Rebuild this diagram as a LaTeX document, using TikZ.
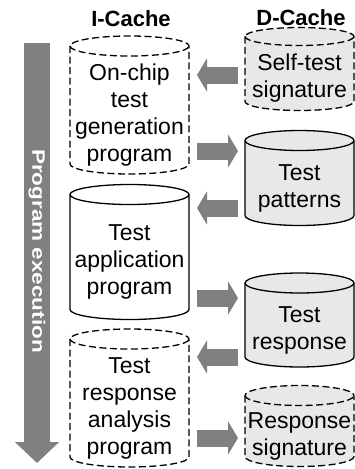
\documentclass[tikz,border=0pt]{standalone}
\usepackage{fontspec}
\setmainfont{Liberation Sans}
\newfontfamily\progfont[FakeStretch=1.25]{Liberation Sans}
\usetikzlibrary{arrows.meta,backgrounds}
\definecolor{arrgray}{RGB}{128,128,128}
\definecolor{dfill}{RGB}{232,232,232}
% #1 node name, #2 x radius, #3 y radius, #4 style
\newcommand{\cylshape}[4]{%
  \path[#4] ([yshift=#3pt]#1.north west) -- ([yshift=#3pt]#1.south west)
    arc[start angle=180,end angle=360,x radius=#2pt,y radius=#3pt]
    -- ([yshift=#3pt]#1.north east)
    arc[start angle=0,end angle=180,x radius=#2pt,y radius=#3pt] -- cycle;
  \path[#4,fill=none] ([yshift=#3pt]#1.north west)
    arc[start angle=180,end angle=360,x radius=#2pt,y radius=#3pt];
}
\begin{document}
\begin{tikzpicture}[x=1pt,y=-1pt,
  cyltext/.style={inner sep=0pt,outer sep=0pt,align=center,
    font=\fontsize{23}{27}\selectfont},
  icyl/.style={cyltext,minimum width=119pt},
  dcyl/.style={cyltext,minimum width=109pt},
  dashline/.style={draw=black,line width=1.3pt,dash pattern=on 7pt off 3.5pt},
  solidline/.style={draw=black,line width=1.3pt},
  head/.style={font=\bfseries\fontsize{22}{24}\selectfont},
  barrow/.style={draw=arrgray,line width=17pt,-{Triangle[width=33pt,length=10pt]}},
]
\useasboundingbox (0,0) rectangle (355,469);

% headings
\node[head] (ih) at (131,19) {I-Cache};
\node[head] (dh) at (301,18) {D-Cache};

% I-Cache cylinders (text region below the top ellipse)
\node[icyl,minimum height=118pt] (i1) at (129.5,115) {On-chip\\test\\generation\\program};
\node[icyl,minimum height=115pt] (i2) at (129.5,262) {Test\\application\\program};
\node[icyl,minimum height=118pt] (i3) at (129.5,408) {Test\\response\\analysis\\program};

% D-Cache cylinders
\node[dcyl,minimum height=65pt] (d1) at (299.5,78) {Self-test\\signature};
\node[dcyl,minimum height=75pt] (d2) at (299.5,188) {Test\\patterns};
\node[dcyl,minimum height=74pt] (d3) at (299.5,330) {Test\\response};
\node[dcyl,minimum height=61pt] (d4) at (299.5,436) {Response\\signature};

\begin{scope}[on background layer]
  \cylshape{i1}{59.5}{10}{dashline,fill=white}
  \cylshape{i2}{59.5}{10}{solidline,fill=white}
  \cylshape{i3}{59.5}{10}{dashline,fill=white}
  \cylshape{d1}{54.5}{9}{dashline,fill=dfill}
  \cylshape{d2}{54.5}{10}{solidline,fill=dfill}
  \cylshape{d3}{54.5}{10}{solidline,fill=dfill}
  \cylshape{d4}{54.5}{10}{dashline,fill=dfill}
\end{scope}

% block arrows between caches
\coordinate (a1) at (0,75);
\coordinate (a2) at (0,151);
\coordinate (a3) at (0,208);
\coordinate (a4) at (0,298);
\coordinate (a5) at (0,357);
\coordinate (a6) at (0,438);
\draw[barrow,shorten <=7pt,shorten >=8pt] (d1.west |- a1) -- (i1.east |- a1);
\draw[barrow,shorten <=8pt,shorten >=7pt] (i1.east |- a2) -- (d2.west |- a2);
\draw[barrow,shorten <=7pt,shorten >=8pt] (d2.west |- a3) -- (i2.east |- a3);
\draw[barrow,shorten <=8pt,shorten >=7pt] (i2.east |- a4) -- (d3.west |- a4);
\draw[barrow,shorten <=7pt,shorten >=8pt] (d3.west |- a5) -- (i3.east |- a5);
\draw[barrow,shorten <=8pt,shorten >=7pt] (i3.east |- a6) -- (d4.west |- a6);

% program execution arrow
\coordinate (ps) at (37,43);
\coordinate (pe) at (37,463);
\draw[draw=arrgray,line width=26pt,-{Triangle[width=43pt,length=21pt]}] (ps) -- (pe);
\node[rotate=-90,text=white,font=\progfont\bfseries\fontsize{18}{20}\selectfont] (prog) at (37,251) {Program execution};
\end{tikzpicture}
\end{document}
